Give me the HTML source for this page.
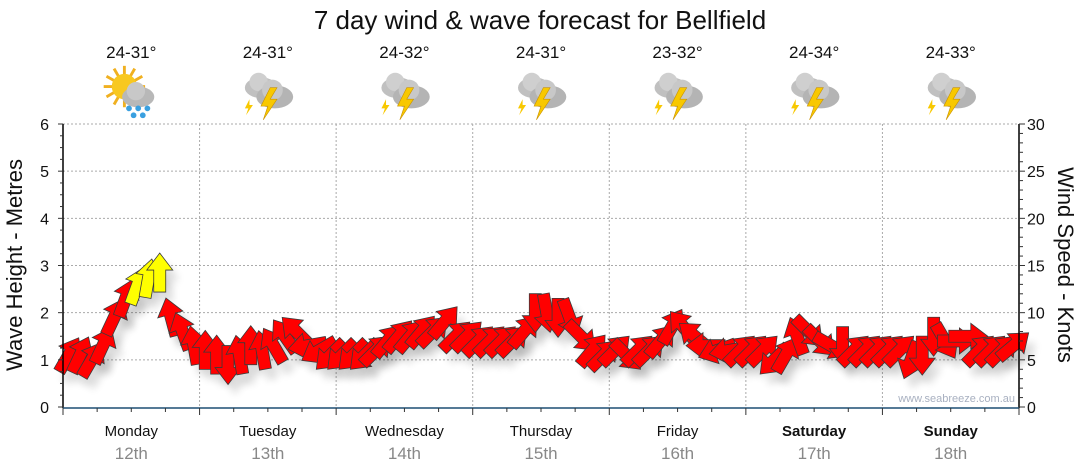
<!DOCTYPE html>
<html><head><meta charset="utf-8">
<style>
body{margin:0;background:#fff;}
svg{display:block;font-family:"Liberation Sans",sans-serif;}
</style></head>
<body>
<svg id="chart" width="1080" height="475" viewBox="0 0 1080 475">
<defs>
<filter id="blur" x="-50%" y="-50%" width="200%" height="200%"><feGaussianBlur stdDeviation="4"/></filter>
</defs>
<text x="540" y="29" text-anchor="middle" font-size="26" fill="#111">7 day wind &amp; wave forecast for Bellfield</text>
<g id="grid"></g>
<g id="icons"></g>
<g id="shadows"></g>
<g id="arrows"></g>
<g id="axes"></g>
<text x="1015" y="402" text-anchor="end" font-size="11" fill="#a8b0c0">www.seabreeze.com.au</text>
<text transform="translate(22,265) rotate(-90)" text-anchor="middle" font-size="22" fill="#111">Wave Height - Metres</text>
<text transform="translate(1058,265) rotate(90)" text-anchor="middle" font-size="22" fill="#111">Wind Speed - Knots</text>
</svg>
<script>
const days = ["Monday","Tuesday","Wednesday","Thursday","Friday","Saturday","Sunday"];
const dates = ["12th","13th","14th","15th","16th","17th","18th"];
const temps = ["24-31°","24-31°","24-32°","24-31°","23-32°","24-34°","24-33°"];
const iconTypes = ["sunshower","storm","storm","storm","storm","storm","storm"];
const leftTicks = [0,1,2,3,4,5,6];
const rightTicks = [0,5,10,15,20,25,30];
const windSpeed = [
5.5,5.5,5,6.5,9.5,11.5,12.8,13.6,14.2,9.5,8,6.5,
6,5.5,4.5,5.5,6.5,6,6.5,7.5,8,6.5,6,5.5,
5.5,5.5,5.5,6,7,7.5,7.5,8,8,9,7.5,7.5,
7,7,7,7,8,10,10,9.5,9.5,7.5,6,5.5,
6,5.5,6,6,7,8.5,8.5,7.5,6.5,6,6,6,
6,6,5,5.5,7.5,8,7,6.5,6.5,6,6,6,
6,6,5,5.5,7.5,7,7,7.5,6,6,6,6.5];
const windDir = [
30,25,30,25,25,20,20,10,0,-15,-20,-10,
0,0,180,-10,0,-10,-30,-35,-45,-100,-120,-135,
225,225,225,45,40,40,40,40,45,40,45,45,
45,45,45,45,40,180,170,180,160,135,40,45,
45,135,45,45,40,30,-40,-50,-90,-110,-100,45,
45,45,225,30,-20,135,135,120,180,45,45,45,
45,45,200,180,180,150,90,90,45,45,45,50];

const NS="http://www.w3.org/2000/svg";
const X0=63, X1=1019, Y0=407, Y1=124;
const dayW=(X1-X0)/7;
const N=windSpeed.length;
const xIdx=h=>X0+(h+0.5)*(X1-X0)/N;
const yM=m=>Y0-(Y0-Y1)*m/6;
const yK=k=>Y0-(Y0-Y1)*k/30;
function mk(tag,attrs,parent){const e=document.createElementNS(NS,tag);for(const k in attrs)e.setAttribute(k,attrs[k]);parent.appendChild(e);return e;}
const grid=document.getElementById('grid'), axes=document.getElementById('axes');
leftTicks.forEach(t=>{ if(t>0){const l=mk('line',{x1:X0,x2:X1,y1:yM(t),y2:yM(t),stroke:'#aaa','stroke-dasharray':'2,2'},grid);

}});
for(let d=1;d<7;d++){const x=X0+d*dayW;const l=mk('line',{x1:x,x2:x,y1:Y1,y2:Y0,stroke:'#aaa','stroke-dasharray':'2,2'},grid);

}
mk('line',{x1:X0,x2:X0,y1:Y1,y2:Y0+1,stroke:'#000','stroke-width':1.5},axes);
mk('line',{x1:X1,x2:X1,y1:Y1,y2:Y0+1,stroke:'#000','stroke-width':1.5},axes);
mk('line',{x1:X0,x2:X1,y1:Y0+1,y2:Y0+1,stroke:'#1d4f73','stroke-width':1.5},axes);
for(let i=0;i<=24;i++){const y=yM(i/4);const major=i%4===0;
mk('line',{x1:X0-(major?5:3),x2:X0,y1:y,y2:y,stroke:'#333'},axes);}
for(let i=0;i<=30;i++){const y=yK(i);const major=i%5===0;
mk('line',{x1:X1,x2:X1+(major?6:4),y1:y,y2:y,stroke:'#333'},axes);}
leftTicks.forEach(t=>{const e=mk('text',{x:X0-14,y:yM(t)+6,'text-anchor':'end','font-size':16,fill:'#111'},axes);e.textContent=t;

});
rightTicks.forEach(t=>{const e=mk('text',{x:X1+8,y:yK(t)+6,'font-size':16,fill:'#111'},axes);e.textContent=t;

});
for(let q=0;q<=28;q++){const x=X0+q*dayW/4;mk('line',{x1:x,x2:x,y1:Y0+1,y2:Y0+(q%4===0?8:5),stroke:'#333'},axes);}
days.forEach((d,i)=>{const cx=X0+(i+0.5)*dayW;
const t=mk('text',{x:cx,y:436,'text-anchor':'middle','font-size':15,fill:'#111','font-weight':i>=5?'bold':'normal'},axes);t.textContent=d;


const t2=mk('text',{x:cx,y:459,'text-anchor':'middle','font-size':17,fill:'#888'},axes);t2.textContent=dates[i];


const t3=mk('text',{x:cx,y:58,'text-anchor':'middle','font-size':17,fill:'#111'},axes);t3.textContent=temps[i];


const ic=document.getElementById('icons');
const g=mk('g',{transform:`translate(${cx},${90}) scale(1.15)`},ic);


if(iconTypes[i]==='sunshower'){
 for(let a=0;a<12;a++){const r=a*30*Math.PI/180;mk('line',{x1:-6+Math.cos(r)*10,y1:-3+Math.sin(r)*10,x2:-6+Math.cos(r)*18,y2:-3+Math.sin(r)*18,stroke:'#f0b020','stroke-width':2.5},g);}
 mk('circle',{cx:-6,cy:-3,r:11,fill:'#f8c820'},g);
 mk('ellipse',{cx:6,cy:6,rx:14,ry:9,fill:'#b8b8b8'},g);
 mk('circle',{cx:4,cy:1,r:8,fill:'#c8c8c8'},g);
 [[-2,16],[6,16],[14,16],[2,22],[10,22]].forEach(p=>mk('circle',{cx:p[0],cy:p[1],r:2.5,fill:'#3aa0e0'},g));
}else{
 mk('ellipse',{cx:-6,cy:-2,rx:14,ry:9,fill:'#c0c0c0'},g);
 mk('circle',{cx:-8,cy:-7,r:8,fill:'#cfcfcf'},g);
 mk('ellipse',{cx:6,cy:6,rx:16,ry:10,fill:'#b4b4b4'},g);
 mk('circle',{cx:4,cy:0,r:9,fill:'#c8c8c8'},g);
 mk('polygon',{points:'2,-2 -6,14 0,14 -4,26 8,8 2,8 8,-2',fill:'#f8c800',stroke:'#c89000','stroke-width':0.5},g);
 mk('polygon',{points:'-16,8 -20,16 -17,16 -19,22 -13,13 -16,13',fill:'#f8c800'},g);
}
});
const shp=document.getElementById('shadows'), arr=document.getElementById('arrows');
const pts="0,-20 13,-3 6,-3 6,19 -6,19 -6,-3 -13,-3";
windSpeed.forEach((s,h)=>{const x=xIdx(h), y=yK(s), d=windDir[h];
 const sh=mk('polygon',{points:pts,fill:'#000',opacity:0.13,filter:'url(#blur)',transform:`translate(${x+7},${y+10}) rotate(${d})`},shp);
 
 
 const a=mk('polygon',{points:pts,fill:s>=12.5?'#ffff00':'#ff0000',stroke:'#3a3a3a','stroke-width':0.8,transform:`translate(${x},${y}) rotate(${d})`},arr);
 
 
});
</script>
</body></html>
